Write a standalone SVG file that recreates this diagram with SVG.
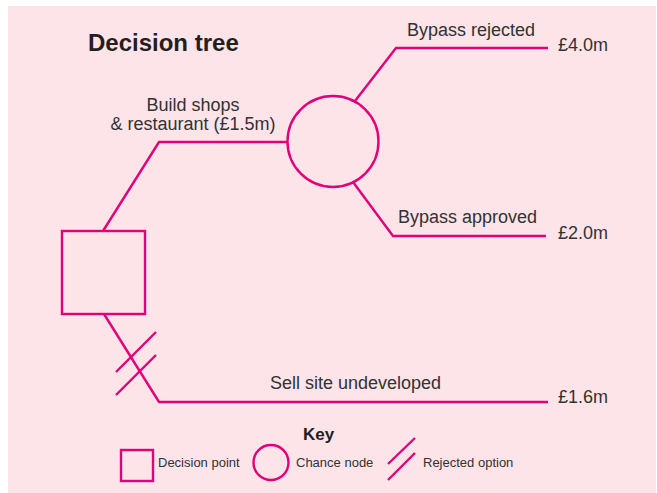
<svg xmlns="http://www.w3.org/2000/svg" width="657" height="493" viewBox="0 0 657 493">
<style>
.s{fill:none;stroke:#E2007A;stroke-width:2.4;}
.t{font-family:"Liberation Sans",Arial,sans-serif;fill:#333132;font-size:18px;}
.k{font-family:"Liberation Sans",Arial,sans-serif;fill:#333132;font-size:13px;}
.b{font-family:"Liberation Sans",Arial,sans-serif;fill:#231f20;font-weight:bold;}
</style>
<rect x="0" y="0" width="657" height="493" fill="#ffffff"/>
<rect x="8" y="6" width="648" height="487" fill="#FCE4E8"/>
<text class="b" x="88" y="51" font-size="24">Decision tree</text>
<g id="connectors">
<polyline class="s" points="103,231 159,142 288,142"/>
<polyline class="s" points="355,101 396,48 548,48"/>
<polyline class="s" points="353,182 393,236 546,236"/>
<polyline class="s" points="104,314 159,402 548,402"/>
<line class="s" x1="116" y1="372" x2="156" y2="332"/>
<line class="s" x1="116" y1="395" x2="156" y2="355"/>
</g>
<g id="decision">
<rect class="s" x="62" y="231" width="83" height="83"/>
</g>
<g id="chance">
<circle class="s" cx="333" cy="141.5" r="45.5"/>
</g>
<g id="labels">
<text class="t" x="193" y="111" text-anchor="middle">Build shops</text>
<text class="t" x="193" y="130" text-anchor="middle">&amp; restaurant (£1.5m)</text>
<text class="t" x="407" y="36">Bypass rejected</text>
<text class="t" x="558" y="51">£4.0m</text>
<text class="t" x="398" y="223">Bypass approved</text>
<text class="t" x="558" y="239">£2.0m</text>
<text class="t" x="270" y="389">Sell site undeveloped</text>
<text class="t" x="558" y="403">£1.6m</text>
</g>
<g id="key">
<text class="b" x="303" y="440" font-size="17">Key</text>
<rect class="s" x="121" y="450" width="32" height="31"/>
<text class="k" x="158" y="467">Decision point</text>
<circle class="s" cx="271" cy="462.5" r="17.5"/>
<text class="k" x="296" y="467">Chance node</text>
<line class="s" x1="388" y1="464" x2="415" y2="438"/>
<line class="s" x1="388" y1="480" x2="415" y2="453"/>
<text class="k" x="423" y="467">Rejected option</text>
</g>
</svg>
